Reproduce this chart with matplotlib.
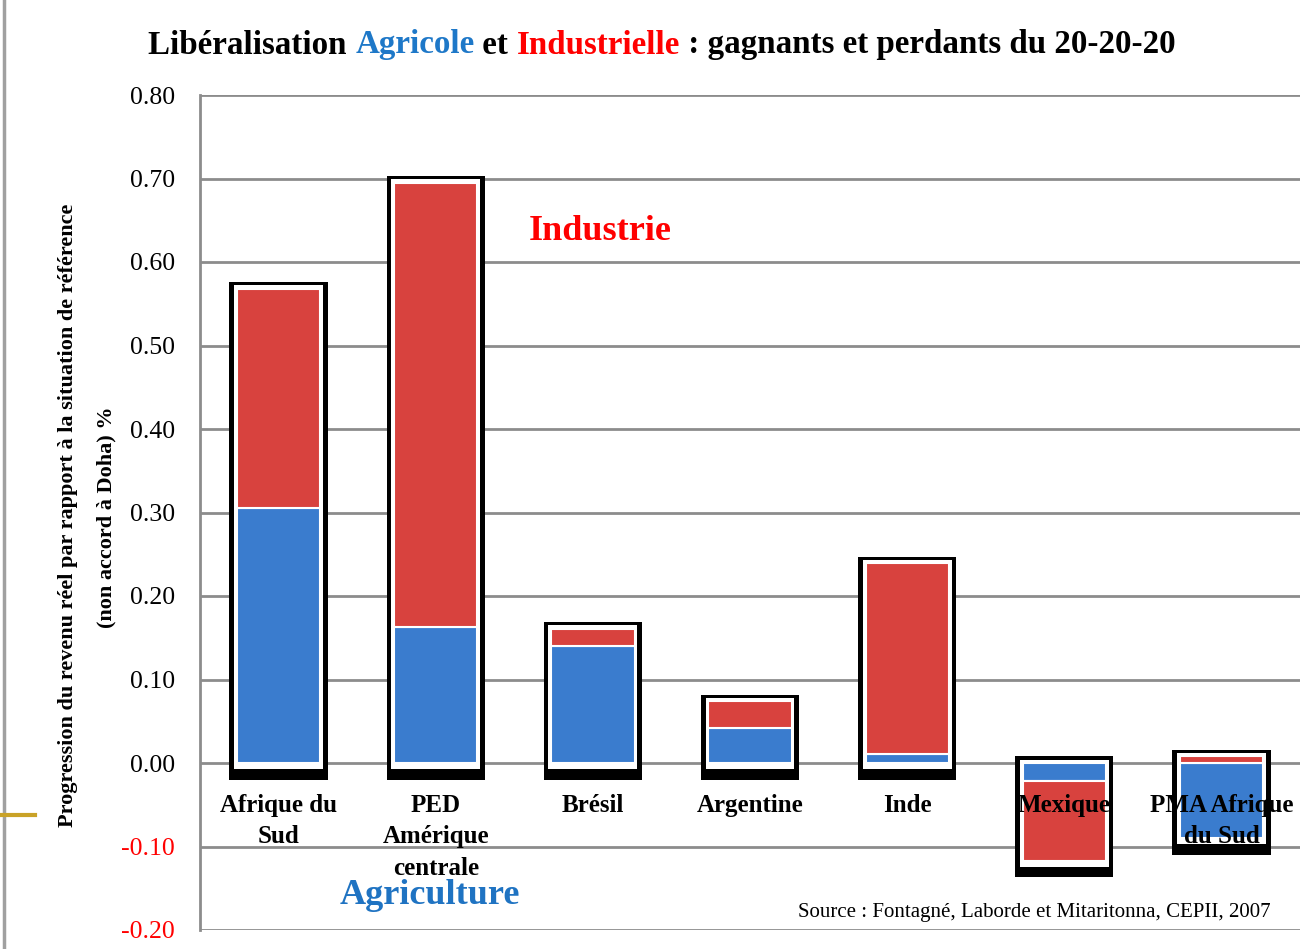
import matplotlib
matplotlib.use("Agg")
import matplotlib.pyplot as plt
from matplotlib.lines import Line2D
import numpy as np

# ---- data ----
categories = ["Afrique du\nSud", "PED\nAmérique\ncentrale", "Brésil", "Argentine",
              "Inde", "Mexique", "PMA Afrique\ndu Sud"]
agriculture = [0.305, 0.163, 0.140, 0.042, 0.011, -0.022, -0.090]
industrie = [0.263, 0.532, 0.021, 0.032, 0.228, -0.095, 0.008]
yticks = [-0.20, -0.10, 0.00, 0.10, 0.20, 0.30, 0.40, 0.50, 0.60, 0.70, 0.80]

SERIF = "Liberation Serif"
BLUE = "#3A7CCE"
RED = "#D8423E"
GRID = "#8C8C8C"

fig = plt.figure(figsize=(13, 9.49), dpi=100)
ax = fig.add_axes([200/1300, 1-930/949, 1100/1300, (930-95)/949])
ax.set_xlim(-0.5, 6.5)
ax.set_ylim(-0.2, 0.8)

for yv in yticks:
    ax.axhline(yv, color=GRID, lw=2, zorder=0)

x = np.arange(len(categories))
pad_top, pad_bot = 0.008, 0.02
for i in range(len(categories)):
    a, ind = agriculture[i], industrie[i]
    pos_base, neg_base = 0.0, 0.0
    segs = []
    for val, col in ((a, BLUE), (ind, RED)):
        if val >= 0:
            segs.append((pos_base, val, col)); pos_base += val
        else:
            segs.append((neg_base, val, col)); neg_base += val
    top, bot = pos_base, neg_base
    ax.bar(x[i], (top + pad_top) - (bot - pad_bot), bottom=bot - pad_bot,
           width=0.625, color="black", zorder=2)
    ax.bar(x[i], (top + 0.004) - (bot - 0.007), bottom=bot - 0.007,
           width=0.565, color="white", zorder=3)
    for base, val, col in segs:
        ax.bar(x[i], val, bottom=base, width=0.53, color=col,
               edgecolor="white", linewidth=1.5, zorder=4)

for sp in ("top", "right", "bottom"):
    ax.spines[sp].set_visible(False)
ax.spines["left"].set_color(GRID)
ax.spines["left"].set_linewidth(2)
ax.set_yticks(yticks)
ax.set_yticklabels([f"{v:.2f}" for v in yticks], fontfamily=SERIF, fontsize=18.5)
for lab, v in zip(ax.get_yticklabels(), yticks):
    if v < 0:
        lab.set_color("red")
ax.tick_params(axis="y", length=0, pad=18)
ax.set_xticks([])

for i, c in enumerate(categories):
    ax.text(x[i], -0.037, c, ha="center", va="top", fontfamily=SERIF,
            fontweight="bold", fontsize=18, linespacing=1.47, zorder=6)

ax.text(0.364, 0.836, "Industrie", transform=ax.transAxes,
        color="#FF0000", fontfamily=SERIF, fontweight="bold", fontsize=26,
        ha="center", va="center")
ax.text(0.209, 0.041, "Agriculture", transform=ax.transAxes, color="#1F73C2",
        fontfamily=SERIF, fontweight="bold", fontsize=26, ha="center", va="center")
ax.text(0.973, 0.021, "Source : Fontagné, Laborde et Mitaritonna, CEPII, 2007",
        transform=ax.transAxes, fontfamily=SERIF, fontsize=15, ha="right", va="center")

# y label (two lines, rotated)
fig.text(68/1300, 1-515/949,
         "Progression du revenu réel par rapport à la situation de référence",
         rotation=90, ha="center", va="center", fontfamily=SERIF,
         fontweight="bold", fontsize=16)
fig.text(106/1300, 1-517/949, "(non accord à Doha) %", rotation=90,
         ha="center", va="center", fontfamily=SERIF, fontweight="bold", fontsize=16)

# decorations
fig.add_artist(Line2D([4/1300, 4/1300], [0, 1], color="#A0A0A0", lw=2.5,
                      transform=fig.transFigure))
fig.add_artist(Line2D([0, 35/1300], [1-815/949, 1-815/949], color="#C9A227", lw=3,
                      transform=fig.transFigure))

# multi-coloured title
parts = [("Libéralisation ", "black"), ("Agricole", "#1E78C8"), (" et ", "black"),
         ("Industrielle", "#FF0000"), (" : gagnants et perdants du 20-20-20", "black")]
fig.canvas.draw()
renderer = fig.canvas.get_renderer()
texts = []
for s, col in parts:
    t = fig.text(0, 1-45/949, s, color=col, fontfamily=SERIF, fontweight="bold",
                 fontsize=23.8, ha="left", va="center")
    texts.append(t)
widths = [t.get_window_extent(renderer).width for t in texts]
total = sum(widths)
xpos = 662 - total/2
for t, w in zip(texts, widths):
    t.set_x(xpos/1300)
    xpos += w

fig.savefig("out.png", dpi=100)
